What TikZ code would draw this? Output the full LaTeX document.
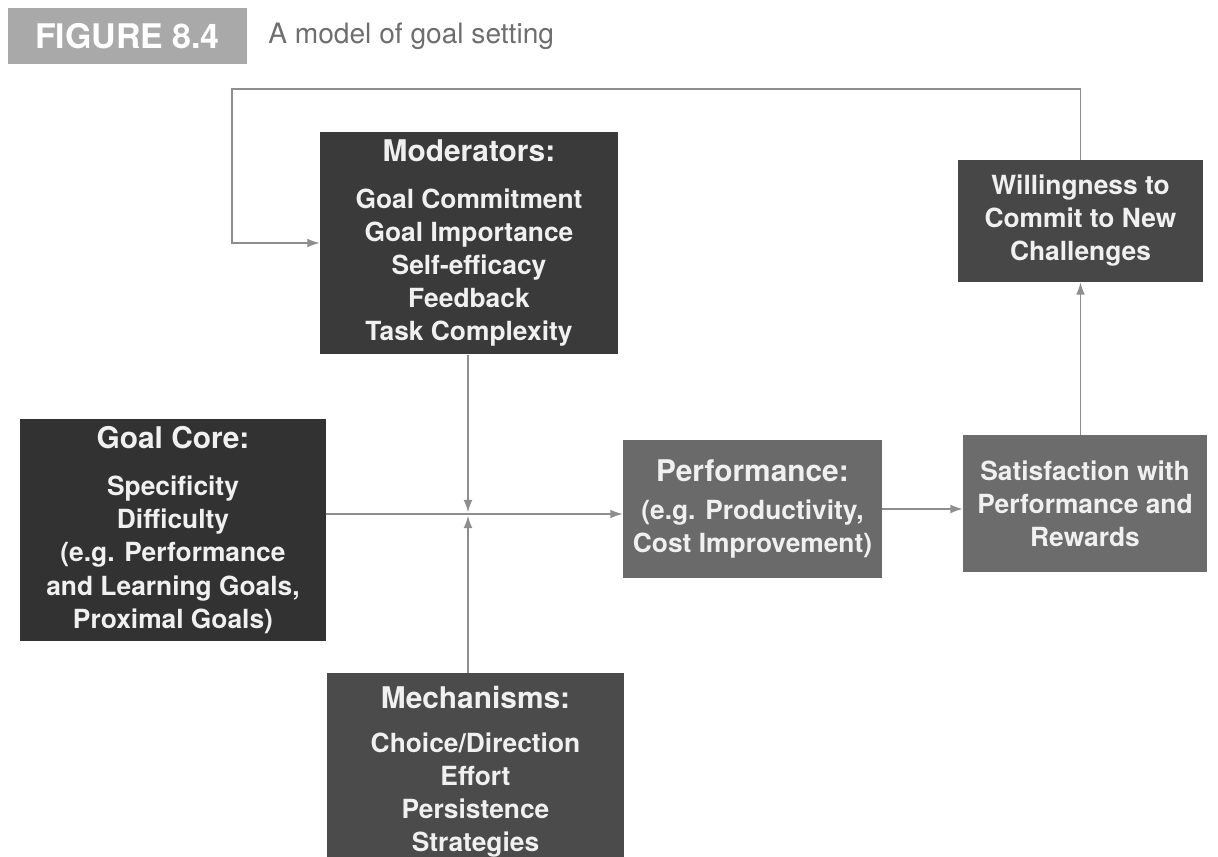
\documentclass[tikz,border=0pt]{standalone}
\usepackage{fontspec}
\setmainfont{TeX Gyre Heros}
\usetikzlibrary{arrows.meta}

\definecolor{tabgray}{HTML}{A9A9A9}
\definecolor{capgray}{HTML}{6E6E6E}
\definecolor{linegray}{HTML}{8E8E8E}
\definecolor{moddark}{HTML}{3A3A3A}
\definecolor{coredark}{HTML}{323232}
\definecolor{wildark}{HTML}{474747}
\definecolor{mechdark}{HTML}{4B4B4B}
\definecolor{perfgray}{HTML}{6A6A6A}
\definecolor{satgray}{HTML}{6C6C6C}

\newcommand{\boxhead}[1]{{\fontsize{17}{20}\selectfont #1}}

\begin{document}
\begin{tikzpicture}[x=0.02cm,y=-0.02cm,
    box/.style={text=white!94!black,align=center,inner sep=0pt,
      font=\bfseries\fontsize{15}{18.8}\selectfont},
    link/.style={draw=linegray,line width=0.8pt,-{Latex[length=7pt,width=5pt]}}]
  \useasboundingbox (0,0) rectangle (1218,856);
  \clip (0,0) rectangle (1218,856);

  % title
  \node[fill=tabgray,text=white,font=\bfseries\fontsize{19.3}{21}\selectfont,
    minimum width=4.78cm,minimum height=1.12cm,inner sep=0pt] (fig) at (127.5,36) {FIGURE 8.4};
  \node[anchor=west,inner sep=0pt,text=capgray,font=\fontsize{16}{18}\selectfont]
    (cap) at (268,36) {A model of goal setting};

  % boxes
  \node[box,fill=moddark,minimum width=5.96cm,minimum height=4.46cm] (mod) at (469,243)
    {\boxhead{Moderators:}\\[8pt] Goal Commitment\\ Goal Importance\\ Self-efficacy\\ Feedback\\ Task Complexity};
  \node[box,fill=wildark,minimum width=4.9cm,minimum height=2.44cm] (wil) at (1080.5,221)
    {Willingness to\\ Commit to New\\ Challenges};
  \node[box,fill=coredark,minimum width=6.12cm,minimum height=4.46cm] (core) at (173,530)
    {\boxhead{Goal Core:}\\[8pt] Specificity\\ Difficulty\\ (e.g. Performance\\ and Learning Goals,\\ Proximal Goals)};
  \node[box,fill=perfgray,minimum width=5.18cm,minimum height=2.76cm] (perf) at (752.5,509)
    {\boxhead{Performance:}\\[3pt] (e.g. Productivity,\\ Cost Improvement)};
  \node[box,fill=satgray,minimum width=4.88cm,minimum height=2.74cm] (sat) at (1085,503.5)
    {Satisfaction with\\ Performance and\\ Rewards};
  \node[box,fill=mechdark,minimum width=5.94cm,inner ysep=0.26cm,anchor=north] (mech) at (475.5,673)
    {\boxhead{Mechanisms:}\\[6pt] Choice/Direction\\ Effort\\ Persistence\\ Strategies\\ \mbox{}\\ \mbox{}};

  % connectors
  \coordinate (junc) at (468,514);
  \coordinate (fb) at (232,89);
  \draw[link] (core.east |- junc) -- (perf.west |- junc);
  \draw[link] (mod.south -| junc) -- ([yshift=1pt]junc);
  \draw[link] (mech.north -| junc) -- ([yshift=-1pt]junc);
  \draw[link] (perf.east) -- (sat.west |- perf.east);
  \draw[link] (sat.north -| wil.south) -- (wil.south);
  \draw[link] (wil.north) |- (fb) |- (mod.west);
\end{tikzpicture}
\end{document}
